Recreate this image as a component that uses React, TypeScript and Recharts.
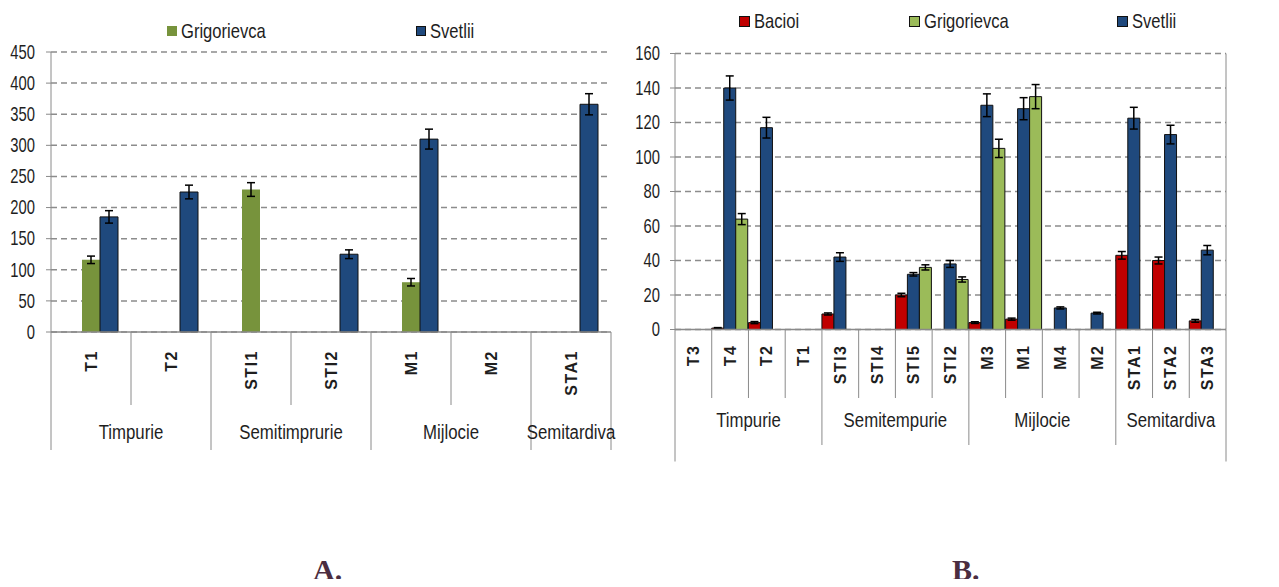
import React from 'react';
import { BarChart, Bar, XAxis, YAxis, CartesianGrid, ErrorBar } from 'recharts';

// ---- Panel A: varieties grouped by maturity class ----
const catsA = ['T1', 'T2', 'STI1', 'STI2', 'M1', 'M2', 'STA1'];
const groupsA = ['Timpurie', 'Timpurie', 'Semitimprurie', 'Semitimprurie', 'Mijlocie', 'Mijlocie', 'Semitardiva'];
const bacioiA = [null, null, null, null, null, null, null];
const grigA = [116, null, 229, null, 80, null, null];
const grigErrA = [6, null, 11, null, 6, null, null];
const svetA = [185, 225, null, 125, 310, null, 366];
const svetErrA = [10, 11, null, 7, 16, null, 17];
const ticksA = [0, 50, 100, 150, 200, 250, 300, 350, 400, 450];

// ---- Panel B ----
const catsB = ['T3', 'T4', 'T2', 'T1', 'STI3', 'STI4', 'STI5', 'STI2', 'M3', 'M1', 'M4', 'M2', 'STA1', 'STA2', 'STA3'];
const groupsB = [
  'Timpurie', 'Timpurie', 'Timpurie', 'Timpurie',
  'Semitempurie', 'Semitempurie', 'Semitempurie', 'Semitempurie',
  'Mijlocie', 'Mijlocie', 'Mijlocie', 'Mijlocie',
  'Semitardiva', 'Semitardiva', 'Semitardiva',
];
const bacioiB = [null, 0.8, 4, null, 9, null, 20, null, 4, 6, null, null, 43, 40, 5];
const bacioiErrB = [null, 0.3, 0.6, null, 0.6, null, 1, null, 0.5, 0.6, null, null, 2.2, 2, 0.8];
const svetB = [null, 140, 117, null, 42, null, 32, 38, 130, 128, 12.5, 9.5, 122.5, 113, 46];
const svetErrB = [null, 7, 6, null, 2.5, null, 1, 2, 6.6, 6.4, 0.6, 0.5, 6.3, 5.4, 2.7];
const grigB = [null, 64, null, null, null, null, 36, 29, 105, 135, null, null, null, null, null];
const grigErrB = [null, 3.2, null, null, null, null, 1.5, 1.5, 5.3, 7, null, null, null, null, null];
const ticksBLeft = [0, 20, 40, 60, 80, 100, 120, 140, 160];
const ticksBRight = [0, 200, 400, 600, 800, 1000, 1200];

const legendA = [
  { name: 'Grigorievca', color: '#77933C', border: 'none' },
  { name: 'Svetlii', color: '#1F497D', border: '1px solid #111' },
];
const legendB = [
  { name: 'Bacioi', color: '#C00000', border: '1px solid #111' },
  { name: 'Grigorievca', color: '#9BBB59', border: '1px solid #111' },
  { name: 'Svetlii', color: '#1F497D', border: '1px solid #111' },
];

const rowsA = catsA.map((cat, i) => ({
  cat,
  bacioi: bacioiA[i],
  grig: grigA[i],
  grigErr: grigErrA[i],
  svet: svetA[i],
  svetErr: svetErrA[i],
}));

const rowsB = catsB.map((cat, i) => ({
  cat,
  bacioi: bacioiB[i],
  bacioiErr: bacioiErrB[i],
  svet: svetB[i],
  svetErr: svetErrB[i],
  grig: grigB[i],
  grigErr: grigErrB[i],
}));

const SANS = "'Liberation Sans', Arial, sans-serif";
const GRID = '#8c8c8c';
const AXIS = '#8a8a8a';
const TEXT = '#1e1e1e';

// Condensed SVG label: the regular sans face squeezed horizontally
const NarrowText = ({ x, y, anchor, size, squeeze, children }: { x: number; y: number; anchor: string; size: number; squeeze: number; children: React.ReactNode }) => (
  <text
    transform={`translate(${x} ${y}) scale(${squeeze} 1)`}
    textAnchor={anchor as any}
    dominantBaseline="central"
    fontFamily={SANS}
    fontSize={size}
    fill={TEXT}
  >
    {children}
  </text>
);

const valueTick = (props: any) => (
  <NarrowText x={props.x} y={props.y} anchor={props.textAnchor} size={20} squeeze={0.74}>
    {props.payload.value}
  </NarrowText>
);

type AxisCfg = {
  cats: string[];
  groups: string[];
  band: number;
  y0: number;
  labelTop: number;
  innerLen: number;
  groupLen: number;
  outerLen: number;
  groupLabelY: number;
};

// Category tick: rotated variety label, separator lines and the maturity-group caption.
const makeCategoryTick = (cfg: AxisCfg) => (props: any) => {
  const { x, payload } = props;
  const { cats, groups, band, y0 } = cfg;
  const i = cats.indexOf(payload.value);
  const n = cats.length;
  const isGroupStart = i === 0 || groups[i] !== groups[i - 1];
  const isLast = i === n - 1;
  let count = 0;
  if (isGroupStart) {
    let j = i;
    while (j < n && groups[j] === groups[i]) j++;
    count = j - i;
  }
  const left = x - band / 2;
  const sepLen = i === 0 ? cfg.outerLen : isGroupStart ? cfg.groupLen : cfg.innerLen;
  return (
    <g>
      <line x1={left} x2={left} y1={y0} y2={y0 + sepLen} stroke={AXIS} strokeWidth={1} />
      {isLast && (
        <line x1={x + band / 2} x2={x + band / 2} y1={y0} y2={y0 + cfg.outerLen} stroke={AXIS} strokeWidth={1} />
      )}
      <text
        x={x}
        y={cfg.labelTop}
        transform={`rotate(-90 ${x} ${cfg.labelTop})`}
        textAnchor="end"
        dominantBaseline="central"
        fontFamily={SANS}
        fontWeight="bold"
        fontSize={16}
        letterSpacing={1.5}
        fill={TEXT}
      >
        {payload.value}
      </text>
      {isGroupStart && (
        <NarrowText x={left + (count * band) / 2} y={cfg.groupLabelY} anchor="middle" size={21} squeeze={0.8}>
          {groups[i]}
        </NarrowText>
      )}
    </g>
  );
};

const LegendRow = ({ items, lefts, top, size }: { items: typeof legendA; lefts: number[]; top: number; size: number }) => (
  <>
    {items.map((it, i) => (
      <div
        key={it.name}
        style={{
          position: 'absolute',
          left: lefts[i],
          top,
          height: 22,
          display: 'flex',
          alignItems: 'center',
          fontFamily: SANS,
          fontSize: 21,
          color: TEXT,
          whiteSpace: 'nowrap',
        }}
      >
        <span style={{ width: size, height: size, background: it.color, border: it.border, boxSizing: 'border-box', display: 'inline-block', marginRight: 4 }} />
        <span style={{ display: 'inline-block', transform: 'scaleX(0.79)', transformOrigin: 'left center', lineHeight: '22px' }}>{it.name}</span>
      </div>
    ))}
  </>
);

// Layout of panel A
const A_W = 620;
const A_H = 470;
const A_TOP = 52;
const A_RIGHT = 9;
const A_YW = 51;
const A_PLOT_H = 280;
const A_BAND = (A_W - A_RIGHT - A_YW) / catsA.length;
const A_Y0 = A_TOP + A_PLOT_H;

// Layout of panel B
const B_LEFT = 620;
const B_W = 659;
const B_H = 470;
const B_TOP = 53.5;
const B_YWL = 55;
const B_YWR = 53;
const B_PLOT_H = 276;
const B_BAND = (B_W - B_YWL - B_YWR) / catsB.length;
const B_Y0 = B_TOP + B_PLOT_H;

const tickA = makeCategoryTick({
  cats: catsA,
  groups: groupsA,
  band: A_BAND,
  y0: A_Y0,
  labelTop: A_Y0 + 18,
  innerLen: 73,
  groupLen: 118,
  outerLen: 118,
  groupLabelY: A_Y0 + 100,
});

const tickB = makeCategoryTick({
  cats: catsB,
  groups: groupsB,
  band: B_BAND,
  y0: B_Y0,
  labelTop: B_Y0 + 15,
  innerLen: 68.5,
  groupLen: 115.5,
  outerLen: 132,
  groupLabelY: B_Y0 + 90.5,
});

export default function App() {
  return (
    <div style={{ position: 'relative', width: 1279, height: 587, margin: -8, background: '#fff', overflow: 'hidden' }}>
      <div style={{ position: 'absolute', left: 0, top: 0 }}>
        <BarChart
          width={A_W}
          height={A_H}
          data={rowsA}
          margin={{ top: A_TOP, right: A_RIGHT, left: 0, bottom: 0 }}
          barSize={18}
          barGap={0}
        >
          <CartesianGrid vertical={false} stroke={GRID} strokeDasharray="6 4" strokeWidth={1.5} />
          <XAxis
            dataKey="cat"
            interval={0}
            height={A_H - A_TOP - A_PLOT_H}
            tickLine={false}
            tickSize={0}
            axisLine={{ stroke: AXIS, strokeWidth: 1.5 }}
            tick={tickA}
          />
          <YAxis
            domain={[0, 450]}
            ticks={ticksA}
            interval={0}
            width={A_YW}
            tickSize={5}
            tickMargin={11}
            axisLine={{ stroke: AXIS }}
            tickLine={{ stroke: AXIS }}
            tick={valueTick}
          />
          <Bar dataKey="bacioi" fill="#C00000" isAnimationActive={false} />
          <Bar dataKey="grig" fill="#77933C" isAnimationActive={false}>
            <ErrorBar dataKey="grigErr" width={4} stroke="#000" strokeWidth={1.5} />
          </Bar>
          <Bar dataKey="svet" fill="#1F497D" stroke="#111" strokeWidth={1} isAnimationActive={false}>
            <ErrorBar dataKey="svetErr" width={4} stroke="#000" strokeWidth={1.5} />
          </Bar>
        </BarChart>
      </div>

      <div style={{ position: 'absolute', left: B_LEFT, top: 0 }}>
        <BarChart
          width={B_W}
          height={B_H}
          data={rowsB}
          margin={{ top: B_TOP, right: 0, left: 0, bottom: 0 }}
          barSize={12}
          barGap={0}
        >
          <CartesianGrid yAxisId="left" vertical={false} stroke={GRID} strokeDasharray="6 4" strokeWidth={1.5} />
          <XAxis
            dataKey="cat"
            interval={0}
            height={B_H - B_TOP - B_PLOT_H}
            tickLine={false}
            tickSize={0}
            axisLine={{ stroke: AXIS, strokeWidth: 1.5 }}
            tick={tickB}
          />
          <YAxis
            yAxisId="left"
            domain={[0, 160]}
            ticks={ticksBLeft}
            interval={0}
            width={B_YWL}
            tickSize={5}
            tickMargin={10}
            axisLine={{ stroke: AXIS }}
            tickLine={{ stroke: AXIS }}
            tick={valueTick}
          />
          <YAxis
            yAxisId="right"
            orientation="right"
            domain={[0, 1200]}
            ticks={ticksBRight}
            interval={0}
            width={B_YWR}
            tickSize={5}
            tickMargin={12}
            axisLine={{ stroke: AXIS }}
            tickLine={{ stroke: AXIS }}
            tick={valueTick}
          />
          <Bar yAxisId="left" dataKey="bacioi" fill="#C00000" stroke="#111" strokeWidth={1} isAnimationActive={false}>
            <ErrorBar dataKey="bacioiErr" width={4} stroke="#000" strokeWidth={1.5} />
          </Bar>
          <Bar yAxisId="left" dataKey="svet" fill="#1F497D" stroke="#111" strokeWidth={1} isAnimationActive={false}>
            <ErrorBar dataKey="svetErr" width={4} stroke="#000" strokeWidth={1.5} />
          </Bar>
          <Bar yAxisId="left" dataKey="grig" fill="#9BBB59" stroke="#111" strokeWidth={1} isAnimationActive={false}>
            <ErrorBar dataKey="grigErr" width={4} stroke="#000" strokeWidth={1.5} />
          </Bar>
        </BarChart>
      </div>

      <LegendRow items={legendA} lefts={[167, 416]} top={20} size={10} />
      <LegendRow items={legendB} lefts={[739, 909, 1117]} top={10} size={11} />

      <div style={{ position: 'absolute', left: 313, top: 553, fontFamily: "'Liberation Serif', 'Times New Roman', serif", fontWeight: 'bold', fontSize: 30, color: '#4B2D40' }}>A.</div>
      <div style={{ position: 'absolute', left: 952, top: 553, fontFamily: "'Liberation Serif', 'Times New Roman', serif", fontWeight: 'bold', fontSize: 30, color: '#4B2D40' }}>B.</div>
    </div>
  );
}
